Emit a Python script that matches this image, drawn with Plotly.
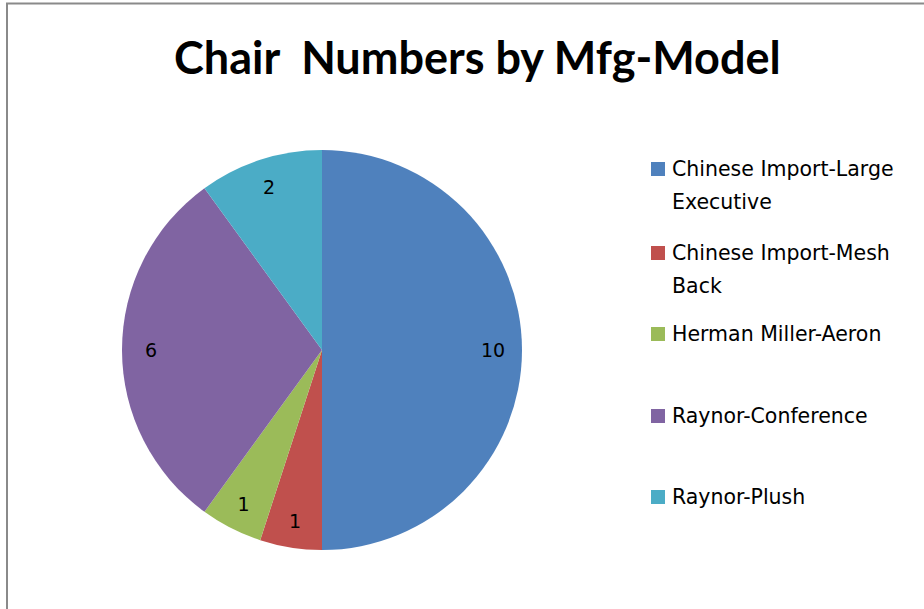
import plotly.graph_objects as go

labels = ["Chinese Import-Large Executive", "Chinese Import-Mesh Back",
          "Herman Miller-Aeron", "Raynor-Conference", "Raynor-Plush"]
legend_lines = [["Chinese Import-Large", "Executive"], ["Chinese Import-Mesh", "Back"],
                ["Herman Miller-Aeron"], ["Raynor-Conference"], ["Raynor-Plush"]]
values = [10, 1, 1, 6, 2]
colors = ["#4F81BD", "#C0504D", "#9BBB59", "#8064A2", "#4BACC6"]

W, H = 924, 609
TITLE_FONT = "Lato"
BODY_FONT = "DejaVu Sans"

def px(x):
    return x / W

def py(y):
    return 1 - y / H

pie_domain = dict(x=[px(122), px(522)], y=[py(550), py(150)])

# the coloured pie
fig = go.Figure(go.Pie(
    labels=labels, values=values, sort=False, direction="clockwise", rotation=0,
    marker=dict(colors=colors, line=dict(width=0)),
    textinfo="none", domain=pie_domain,
    showlegend=False, hoverinfo="label+value",
))
# transparent ring carrying the value labels near the outer edge
fig.add_trace(go.Pie(
    labels=labels, values=values, sort=False, direction="clockwise", rotation=0,
    hole=0.71,
    marker=dict(colors=["rgba(0,0,0,0)"] * len(values), line=dict(width=0)),
    textinfo="value", textposition="inside", insidetextorientation="horizontal",
    textfont=dict(family=BODY_FONT, size=19, color="#000000"),
    domain=pie_domain, showlegend=False, hoverinfo="skip",
))

# manual legend laid out like the original
legend_y = [169, 253, 334, 416, 497]  # pixel y of first text line centre
line_gap = 33
shapes = []
annotations = []
for lines, col, yp in zip(legend_lines, colors, legend_y):
    shapes.append(dict(type="rect", xref="paper", yref="paper",
                       x0=px(651), x1=px(665), y0=py(yp + 7), y1=py(yp - 7),
                       fillcolor=col, line=dict(width=0)))
    for i, ln in enumerate(lines):
        annotations.append(dict(xref="paper", yref="paper", x=px(670), y=py(yp + i * line_gap),
                                xanchor="left", yanchor="middle", align="left", showarrow=False,
                                text=ln, font=dict(family=BODY_FONT, size=20.5, color="#000000")))

# chart area border (left and top edges visible)
shapes.append(dict(type="rect", xref="paper", yref="paper",
                   x0=px(7), x1=1.1, y0=-0.1, y1=py(3.5),
                   line=dict(color="#8A8A8A", width=2), fillcolor="rgba(0,0,0,0)"))

annotations.append(dict(xref="paper", yref="paper", x=px(478), y=py(57),
                        xanchor="center", yanchor="middle", showarrow=False,
                        text="<b>Chair  Numbers by Mfg-Model</b>",
                        font=dict(family=TITLE_FONT, size=45, color="#000000")))

fig.update_layout(width=W, height=H, margin=dict(l=0, r=0, t=0, b=0),
                  paper_bgcolor="white", plot_bgcolor="white",
                  shapes=shapes, annotations=annotations)

fig.write_html("out.html", config={"displayModeBar": False},
               post_script="document.body.style.margin='0px';")
